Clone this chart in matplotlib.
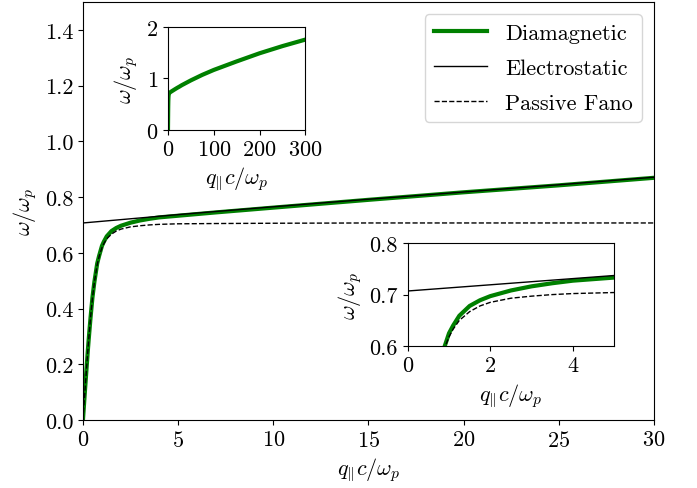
import numpy as np
import matplotlib
matplotlib.use("Agg")
import matplotlib.pyplot as plt

plt.rcParams['font.family'] = 'serif'
plt.rcParams['font.serif'] = ['cmr10']
plt.rcParams['mathtext.fontset'] = 'cm'
plt.rcParams['axes.formatter.use_mathtext'] = True
plt.rcParams['font.size'] = 16

# ---- values ----
q_dia = [0, 0.1, 0.25, 0.3, 0.4, 0.5, 0.6, 0.75, 0.85, 0.9, 1.0, 1.1, 1.25, 1.5,
         1.75, 2.0, 2.5, 3.0, 3.5, 4.0, 5.0, 7.0,
         10, 15, 20, 25, 30, 50, 75, 100, 150, 200, 250, 300]
w_dia = [0, 0.100, 0.243, 0.287, 0.368, 0.440, 0.495, 0.562, 0.589, 0.601, 0.625,
         0.640, 0.659, 0.678, 0.689, 0.697, 0.708, 0.716, 0.722,
         0.727, 0.733, 0.745, 0.762, 0.790, 0.817, 0.842, 0.869, 0.963, 1.070,
         1.165, 1.330, 1.488, 1.627, 1.753]

q_es = [0, 5, 10, 15, 20, 25, 30]
w_es = [0.707, 0.737, 0.765, 0.792, 0.818, 0.844, 0.871]

q_fano = [0, 0.1, 0.25, 0.3, 0.4, 0.5, 0.6, 0.75, 0.85, 0.9, 1.0, 1.1, 1.25, 1.5,
          1.75, 2.0, 2.5, 3.0, 3.5, 4.0, 5.0, 7.0, 10, 15, 20, 30]
w_fano = [0, 0.099, 0.242, 0.286, 0.367, 0.437, 0.494, 0.557, 0.586, 0.598, 0.618,
          0.633, 0.650, 0.667, 0.678, 0.685, 0.693, 0.697, 0.700, 0.702, 0.704,
          0.705, 0.706, 0.707, 0.707, 0.707]

xlab = r'$q_{\|}c/\omega_p$'
ylab = r'$\omega/\omega_p$'


def draw(ax):
	ax.plot(q_dia, w_dia, color='green', lw=3, label='Diamagnetic')
	ax.plot(q_es, w_es, color='black', lw=1.0, label='Electrostatic')
	ax.plot(q_fano, w_fano, color='black', lw=1.0, ls='--', label='Passive Fano')


fig = plt.figure(figsize=(6.97, 4.89), dpi=100)

# ---- main axes ----
ax = fig.add_axes([0.119, 0.139, 0.819, 0.855])
draw(ax)
ax.set_xlim(0, 30)
ax.set_ylim(0, 1.5)
ax.set_xticks([0, 5, 10, 15, 20, 25, 30])
ax.set_yticks([0, 0.2, 0.4, 0.6, 0.8, 1.0, 1.2, 1.4])
ax.yaxis.set_major_formatter(matplotlib.ticker.FormatStrFormatter('%.1f'))
ax.set_xlabel(xlab)
ax.set_ylabel(ylab)
ax.legend(loc='upper right', handlelength=2.4, borderaxespad=0.55,
          labelspacing=0.7)

# ---- inset: full range ----
ax1 = fig.add_axes([0.241, 0.732, 0.197, 0.211])
ax1.plot(q_dia, w_dia, color='green', lw=3)
ax1.set_xlim(0, 300)
ax1.set_ylim(0, 2)
ax1.set_xticks([0, 100, 200, 300])
ax1.set_yticks([0, 1, 2])
ax1.set_xlabel(xlab)
ax1.set_ylabel(ylab)

# ---- inset: zoom near the knee ----
ax2 = fig.add_axes([0.585, 0.290, 0.296, 0.211])
draw(ax2)
ax2.set_xlim(0, 5)
ax2.set_ylim(0.6, 0.8)
ax2.set_xticks([0, 2, 4])
ax2.set_yticks([0.6, 0.7, 0.8])
ax2.yaxis.set_major_formatter(matplotlib.ticker.FormatStrFormatter('%.1f'))
ax2.set_xlabel(xlab)
ax2.set_ylabel(ylab)

fig.savefig('out.png', dpi=100)
